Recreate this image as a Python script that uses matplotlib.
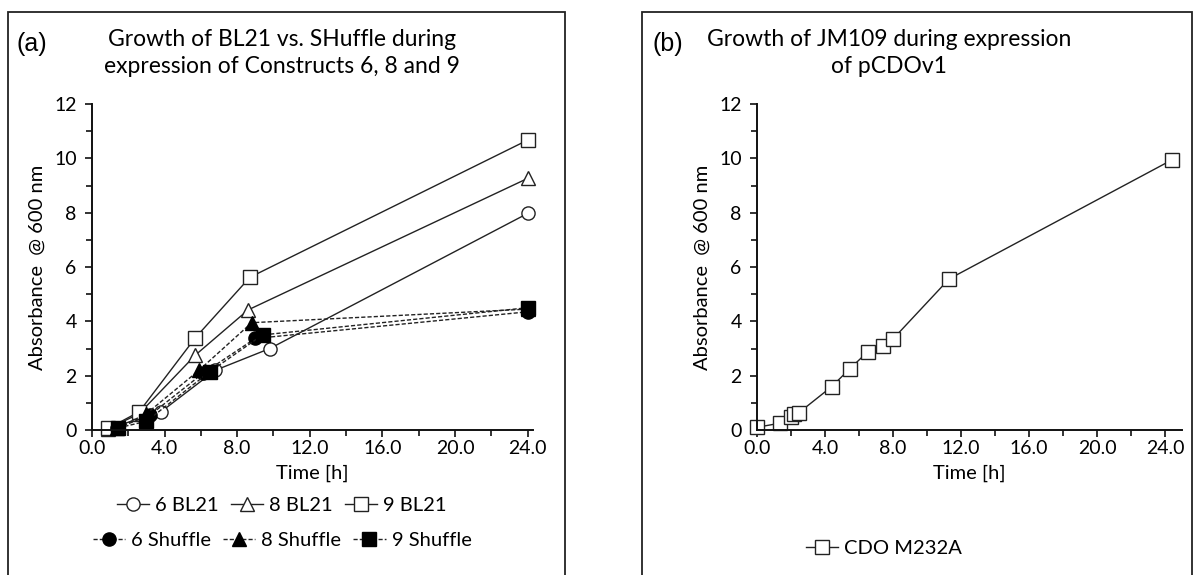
import matplotlib
matplotlib.use("Agg")
import matplotlib.pyplot as plt
from matplotlib.patches import Rectangle
from matplotlib.ticker import MultipleLocator, FormatStrFormatter

plt.rcParams['font.family'] = ['Lato', 'DejaVu Sans']

# Panel (a): BL21 vs SHuffle growth
t_6_bl21 = [0.9, 3.8, 6.8, 9.8, 24.0]
od_6_bl21 = [0.05, 0.67, 2.2, 3.0, 7.97]
t_8_bl21 = [0.9, 2.6, 5.7, 8.6, 24.0]
od_8_bl21 = [0.05, 0.6, 2.76, 4.42, 9.26]
t_9_bl21 = [0.9, 2.6, 5.7, 8.7, 24.0]
od_9_bl21 = [0.06, 0.67, 3.4, 5.62, 10.67]

t_6_shuffle = [1.4, 3.2, 6.1, 9.0, 24.0]
od_6_shuffle = [0.07, 0.55, 2.08, 3.37, 4.35]
t_8_shuffle = [1.4, 3.0, 5.9, 8.8, 24.0]
od_8_shuffle = [0.07, 0.6, 2.2, 3.95, 4.45]
t_9_shuffle = [1.45, 3.0, 6.5, 9.4, 24.0]
od_9_shuffle = [0.08, 0.32, 2.15, 3.5, 4.5]

# Panel (b): JM109 growth
t_cdo = [0.0, 1.35, 2.0, 2.2, 2.45, 4.4, 5.45, 6.5, 7.4, 8.0, 11.3, 24.4]
od_cdo = [0.1, 0.25, 0.48, 0.6, 0.63, 1.6, 2.25, 2.87, 3.1, 3.35, 5.56, 9.94]

W, H = 1200, 575
fig = plt.figure(figsize=(12, 5.75), dpi=100)


def fx(px):
    return px / W


def fy(py):
    return 1 - py / H


# panel frames
fig.patches.append(Rectangle((fx(8), -0.01), fx(565 - 8), fy(12) + 0.01,
                             transform=fig.transFigure, fill=False,
                             edgecolor='#222222', linewidth=1.3))
fig.patches.append(Rectangle((fx(642), -0.01), fx(1192 - 642), fy(12) + 0.01,
                             transform=fig.transFigure, fill=False,
                             edgecolor='#222222', linewidth=1.3))

ax_a = fig.add_axes([fx(92), fy(430), fx(533 - 92), fy(104) - fy(430)])
ax_b = fig.add_axes([fx(757), fy(430), fx(1182 - 757), fy(104) - fy(430)])


def style_axis(ax, xmax):
    ax.set_xlim(0, xmax)
    ax.set_ylim(0, 12)
    ax.xaxis.set_major_locator(MultipleLocator(4))
    ax.xaxis.set_minor_locator(MultipleLocator(2))
    ax.yaxis.set_major_locator(MultipleLocator(2))
    ax.yaxis.set_minor_locator(MultipleLocator(1))
    ax.xaxis.set_major_formatter(FormatStrFormatter('%.1f'))
    for side in ['top', 'right']:
        ax.spines[side].set_visible(False)
    for side in ['left', 'bottom']:
        ax.spines[side].set_linewidth(1.4)
        ax.spines[side].set_color('#111111')
    ax.tick_params(which='major', direction='out', length=5, width=1.2,
                   labelsize=14, pad=6, color='#111111')
    ax.tick_params(axis='x', which='major', pad=2.5)
    ax.tick_params(which='minor', direction='out', length=4, width=1.2,
                   color='#111111')
    ax.set_xlabel('Time [h]', fontsize=14.5, labelpad=5)
    ax.set_ylabel('Absorbance  @ 600 nm', fontsize=14.5, labelpad=6)
    ax.set_facecolor('none')


open_kw = dict(color='#222222', linewidth=1.0, markersize=9.5,
               markerfacecolor='white', markeredgecolor='#222222',
               markeredgewidth=1.0)
filled_kw = dict(color='#222222', linewidth=1.0, linestyle=(0, (3, 1.5)),
                 markersize=9.5, markerfacecolor='black',
                 markeredgecolor='black')

l1, = ax_a.plot(t_6_bl21, od_6_bl21, marker='o', label='6 BL21', **open_kw)
l2, = ax_a.plot(t_8_bl21, od_8_bl21, marker='^', label='8 BL21', **open_kw)
l3, = ax_a.plot(t_9_bl21, od_9_bl21, marker='s', label='9 BL21', **open_kw)
l4, = ax_a.plot(t_6_shuffle, od_6_shuffle, marker='o', label='6 Shuffle', **filled_kw)
l5, = ax_a.plot(t_8_shuffle, od_8_shuffle, marker='^', label='8 Shuffle', **filled_kw)
l6, = ax_a.plot(t_9_shuffle, od_9_shuffle, marker='s', label='9 Shuffle', **filled_kw)
for ln in [l1, l2, l3, l4, l5, l6]:
    ln.set_clip_on(False)

style_axis(ax_a, 24.3)

leg_kw = dict(frameon=False, fontsize=14.5, handlelength=1.6,
              handletextpad=0.3, columnspacing=0.6)
fig.legend([l1, l2, l3], ['6 BL21', '8 BL21', '9 BL21'], ncol=3,
           loc='center', bbox_to_anchor=(fx(282), fy(505)), **leg_kw)
fig.legend([l4, l5, l6], ['6 Shuffle', '8 Shuffle', '9 Shuffle'], ncol=3,
           loc='center', bbox_to_anchor=(fx(282), fy(540)), **leg_kw)

lb, = ax_b.plot(t_cdo, od_cdo, marker='s', label='CDO M232A', **open_kw)
lb.set_clip_on(False)
style_axis(ax_b, 25.0)
fig.legend([lb], ['CDO M232A'], loc='center',
           bbox_to_anchor=(fx(884), fy(548)), **leg_kw)

# titles and panel letters
fig.text(fx(282), fy(53), 'Growth of BL21 vs. SHuffle during\nexpression of Constructs 6, 8 and 9',
         ha='center', va='center', fontsize=16.5, linespacing=1.3)
fig.text(fx(889), fy(53), 'Growth of JM109 during expression\nof pCDOv1',
         ha='center', va='center', fontsize=16.5, linespacing=1.3)
fig.text(fx(17), fy(44), '(a)', ha='left', va='center', fontsize=18,
         family=['Liberation Sans', 'DejaVu Sans'])
fig.text(fx(652), fy(44), '(b)', ha='left', va='center', fontsize=18,
         family=['Liberation Sans', 'DejaVu Sans'])

fig.savefig('out.png', dpi=100, facecolor='white')
